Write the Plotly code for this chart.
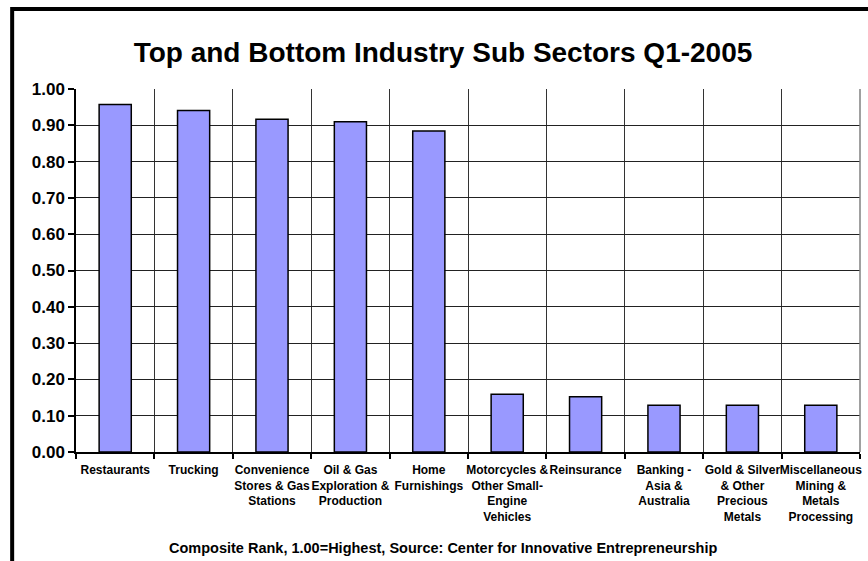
import plotly.graph_objects as go

categories = [
    "Restaurants",
    "Trucking",
    "Convenience<br>Stores & Gas<br>Stations",
    "Oil & Gas<br>Exploration &<br>Production",
    "Home<br>Furnishings",
    "Motorcycles &<br>Other Small-<br>Engine<br>Vehicles",
    "Reinsurance",
    "Banking -<br>Asia &<br>Australia",
    "Gold & Silver<br>& Other<br>Precious<br>Metals",
    "Miscellaneous<br>Mining &<br>Metals<br>Processing",
]
values = [0.957, 0.941, 0.917, 0.910, 0.884, 0.159, 0.152, 0.129, 0.129, 0.129]
y_ticks = [0.0, 0.1, 0.2, 0.3, 0.4, 0.5, 0.6, 0.7, 0.8, 0.9, 1.0]
y_tick_labels = ["%.2f" % v for v in y_ticks]

W, H = 868, 561
ML, MR, MT, MB = 76, 6, 89, 109
pw, ph = W - ML - MR, H - MT - MB

FONT = "Arial, Liberation Sans, sans-serif"

fig = go.Figure(
    go.Bar(
        x=categories,
        y=values,
        marker=dict(color="#9999FF", line=dict(color="black", width=1.5)),
        hoverinfo="x+y",
    )
)

# outer chart frame (left and top edges visible)
lx = (12 - ML) / pw
ty = 1 + (MT - 9) / ph
fig.add_shape(
    type="path",
    path=f"M {lx} -1 L {lx} {ty} L 1.2 {ty}",
    xref="paper", yref="paper",
    line=dict(color="black", width=4),
)
# gray right border of plot area
fig.add_shape(
    type="line", xref="paper", yref="paper", x0=1, x1=1, y0=0, y1=1,
    line=dict(color="#808080", width=1.5),
)

fig.add_annotation(
    text="<b>Composite Rank, 1.00=Highest, Source: Center for Innovative Entrepreneurship</b>",
    xref="paper", yref="paper", x=(444 - ML) / pw, y=(MT + ph - 548) / ph,
    xanchor="center", yanchor="middle", showarrow=False,
    font=dict(family=FONT, size=14.5, color="black"),
)

fig.update_layout(
    width=W, height=H,
    margin=dict(l=ML, r=MR, t=MT, b=MB, pad=0),
    paper_bgcolor="white", plot_bgcolor="white",
    bargap=0.59,
    showlegend=False,
    title=dict(
        text="<b>Top and Bottom Industry Sub Sectors Q1-2005</b>",
        x=(443) / W, xanchor="center", y=1 - 52 / H, yanchor="middle",
        yref="container", xref="container",
        font=dict(family=FONT, size=28, color="black"),
    ),
    font=dict(family=FONT, color="black"),
    xaxis=dict(
        type="category",
        tickson="boundaries",
        ticks="outside", ticklen=5, tickcolor="black", tickwidth=1.5,
        showgrid=True, gridcolor="#333333", gridwidth=1,
        showline=True, linecolor="black", linewidth=1.5,
        tickangle=0,
        ticklabelstandoff=6,
        tickfont=dict(family=FONT, size=12, color="black", weight="bold"),
    ),
    yaxis=dict(
        range=[0, 1.0],
        tickvals=y_ticks, ticktext=y_tick_labels,
        ticks="outside", ticklen=6, tickcolor="black", tickwidth=1.5,
        showgrid=True, gridcolor="#222222", gridwidth=1,
        showline=True, linecolor="black", linewidth=1.5,
        zeroline=False,
        tickfont=dict(family=FONT, size=17, color="black", weight="bold"),
    ),
)

fig.write_html("out.html")
